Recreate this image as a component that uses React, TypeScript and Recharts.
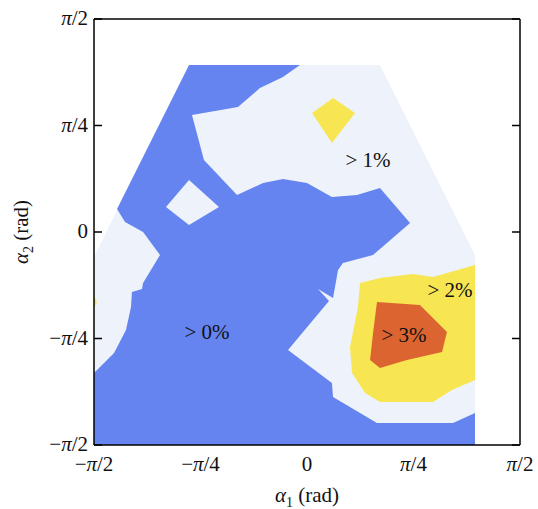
import { Scatter, ScatterChart, XAxis, YAxis } from "recharts";

const PI = Math.PI;
const LIMITS: [number, number] = [-PI / 2, PI / 2];
const TICKS = [-PI / 2, -PI / 4, 0, PI / 4, PI / 2];
const TICK_LABELS = ["−π/2", "−π/4", "0", "π/4", "π/2"];

// contour outlines, [alpha1, alpha2] in rad
const domainEdge = [
  [-0.87, 1.232], [0.538, 1.232], [1.239, -0.17], [1.239, -1.571],
  [-1.571, -1.571], [-1.571, -0.184],
];

const levelZero = [
  [-0.87, 1.232], [-0.052, 1.232], [-0.177, 1.143], [-0.347, 1.062],
  [-0.509, 0.922], [-0.848, 0.863], [-0.76, 0.531], [-0.516, 0.273],
  [-0.324, 0.361], [-0.177, 0.391], [0, 0.361], [0.184, 0.258],
  [0.369, 0.273], [0.538, 0.324], [0.76, 0.066], [0.487, -0.17],
  [0.265, -0.229], [0.229, -0.28], [0.192, -0.487], [0.081, -0.42],
  [0.162, -0.509], [-0.14, -0.87], [0.184, -1.114], [0.192, -1.217],
  [0.516, -1.409], [1.077, -1.409], [1.239, -1.335], [1.239, -1.571],
  [-1.571, -1.571], [-1.571, -1.04], [-1.423, -0.892], [-1.335, -0.723],
  [-1.298, -0.553], [-1.291, -0.442], [-1.217, -0.42], [-1.209, -0.376],
  [-1.084, -0.17], [-1.209, 0], [-1.342, 0.074], [-1.401, 0.17],
];

const levelZeroHole = [
  [-0.87, 0.383], [-0.649, 0.184], [-0.87, 0.052], [-1.04, 0.184],
];

const levelTwoTop = [
  [0.192, 0.988], [0.354, 0.878], [0.184, 0.656], [0.037, 0.878],
];

const levelTwoEdge = [
  [-1.571, -0.472], [-1.549, -0.516], [-1.571, -0.56],
];

const levelTwo = [
  [0.391, -0.376], [0.538, -0.339], [0.78, -0.31], [0.929, -0.332],
  [1.239, -0.243], [1.239, -1.091], [1.069, -1.165], [0.929, -1.254],
  [0.538, -1.254], [0.428, -1.187], [0.332, -1.04], [0.317, -0.848],
  [0.376, -0.553],
];

const levelThree = [
  [0.516, -0.516], [0.833, -0.538], [1.032, -0.737], [0.996, -0.885],
  [0.737, -0.944], [0.538, -1.003], [0.465, -0.944], [0.487, -0.745],
];

const levelLabels = [
  { x: -0.737, y: -0.737, text: "> 0%" },
  { x: 0.45, y: 0.531, text: "> 1%" },
  { x: 1.055, y: -0.428, text: "> 2%" },
  { x: 0.715, y: -0.76, text: "> 3%" },
];

const LIGHT = "#EEF3FB";
const BLUE = "#6584F0";
const YELLOW = "#F7E652";
const ORANGE = "#DC6430";

const SERIF = "'Liberation Serif', 'Times New Roman', serif";

const pts = (list: number[][]) => list.map(([x, y]) => ({ x, y }));

const regions: { data: number[][]; fill: string }[] = [
  { data: domainEdge, fill: LIGHT },
  { data: levelZero, fill: BLUE },
  { data: levelZeroHole, fill: LIGHT },
  { data: levelTwoTop, fill: YELLOW },
  { data: levelTwoEdge, fill: YELLOW },
  { data: levelTwo, fill: YELLOW },
  { data: levelThree, fill: ORANGE },
];

function PiText({ value }: { value: string }) {
  const i = value.indexOf("π");
  if (i < 0) return <>{value}</>;
  return (
    <>
      {value.slice(0, i)}
      <tspan fontStyle="italic">π</tspan>
      {value.slice(i + 1)}
    </>
  );
}

function BottomTick(props: any) {
  const { x, y, index } = props;
  return (
    <text x={x} y={y + 26} textAnchor="middle" fontFamily={SERIF} fontSize={21} fill="#111">
      <PiText value={TICK_LABELS[index]} />
    </text>
  );
}

function LeftTick(props: any) {
  const { x, y, index } = props;
  return (
    <text x={x} y={y + 6} textAnchor="end" fontFamily={SERIF} fontSize={21} fill="#111">
      <PiText value={TICK_LABELS[index]} />
    </text>
  );
}

function XTitle(props: any) {
  const { x, y, width } = props.viewBox;
  return (
    <text x={x + width / 2} y={y + 57} textAnchor="middle" fontFamily={SERIF} fontSize={21} fill="#111">
      <tspan fontStyle="italic">α</tspan>
      <tspan dy={5} fontSize={14}>1</tspan>
      <tspan dy={-5}> (rad)</tspan>
    </text>
  );
}

function YTitle(props: any) {
  const { y, height } = props.viewBox;
  const cx = 28;
  const cy = y + height / 2;
  return (
    <text
      x={cx}
      y={cy}
      transform={`rotate(-90 ${cx} ${cy})`}
      textAnchor="middle"
      fontFamily={SERIF}
      fontSize={21}
      fill="#111"
    >
      <tspan fontStyle="italic">α</tspan>
      <tspan dy={5} fontSize={14}>2</tspan>
      <tspan dy={-5}> (rad)</tspan>
    </text>
  );
}

function LevelLabel(props: any) {
  const { cx, cy, payload } = props;
  return (
    <text x={cx} y={cy} dy={7} textAnchor="middle" fontFamily={SERIF} fontSize={21} fill="#111">
      {payload.text}
    </text>
  );
}

const noMarker = () => <g />;
const noLabel = () => <g />;

const axisCommon = {
  type: "number" as const,
  domain: LIMITS,
  ticks: TICKS,
  interval: 0 as const,
  allowDataOverflow: true,
  stroke: "#000",
  strokeWidth: 1.5,
};

export default function App() {
  return (
    <div style={{ position: "absolute", left: 0, top: 0, width: 538, height: 509, background: "#fff" }}>
      <ScatterChart width={538} height={509} margin={{ top: 19, right: 18, bottom: 0, left: 0 }}>
        {regions.map((r, i) => (
          <Scatter
            key={i}
            data={pts(r.data)}
            line={{ fill: r.fill, stroke: "none" }}
            lineJointType="linearClosed"
            shape={noMarker}
            isAnimationActive={false}
            zIndex={100}
          />
        ))}
        <Scatter data={levelLabels} shape={LevelLabel} isAnimationActive={false} zIndex={110} />

        <XAxis
          {...axisCommon}
          dataKey="x"
          height={64}
          tickLine={false}
          tickSize={0}
          tickMargin={0}
          tick={BottomTick}
          label={<XTitle />}
        />
        <YAxis
          {...axisCommon}
          dataKey="y"
          width={94}
          tickLine={false}
          tickSize={0}
          tickMargin={6}
          tick={LeftTick}
          label={<YTitle />}
        />
        {/* inward tick marks and the top/right frame */}
        <XAxis {...axisCommon} xAxisId="bottomTicks" mirror axisLine={false} tick={noLabel} tickSize={8} />
        <YAxis {...axisCommon} yAxisId="leftTicks" mirror axisLine={false} tick={noLabel} tickSize={8} />
        <XAxis {...axisCommon} xAxisId="top" orientation="top" mirror tick={noLabel} tickSize={8} />
        <YAxis {...axisCommon} yAxisId="right" orientation="right" mirror tick={noLabel} tickSize={8} />
      </ScatterChart>
    </div>
  );
}
